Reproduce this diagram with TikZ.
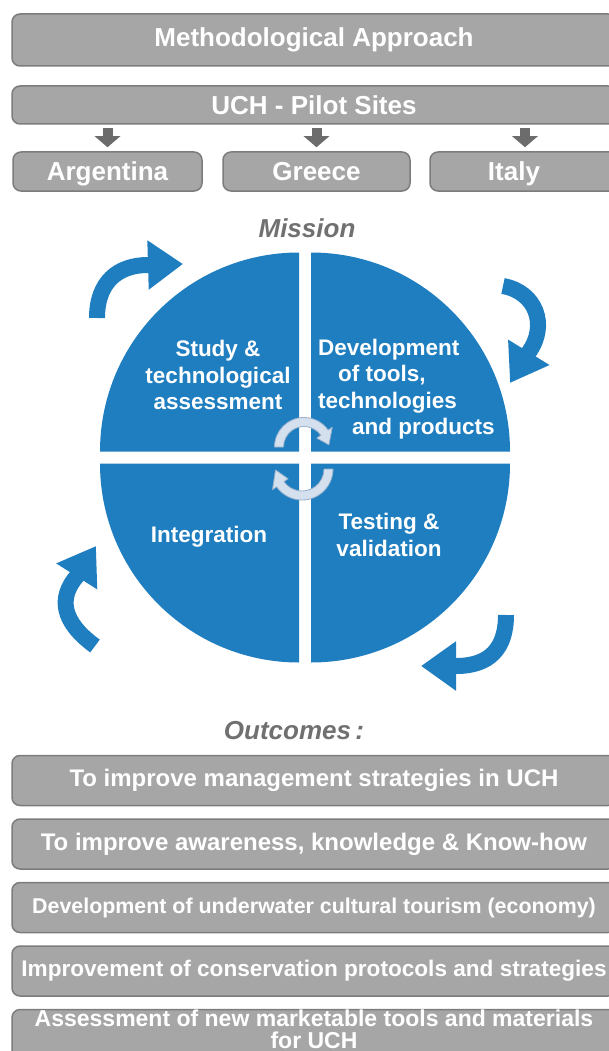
\documentclass[tikz,border=0pt]{standalone}
\usepackage{fontspec}
\setmainfont{Liberation Sans}
\usetikzlibrary{arrows.meta,positioning}

\definecolor{boxgray}{RGB}{166,166,166}
\definecolor{boxline}{RGB}{124,124,124}
\definecolor{titlegray}{RGB}{112,112,112}
\definecolor{arrowgray}{RGB}{108,108,108}
\definecolor{missionblue}{RGB}{31,126,192}
\definecolor{hubfill}{RGB}{212,224,237}
\definecolor{hubline}{RGB}{150,176,205}

\tikzset{
  graybox/.style={draw=boxline, line width=1.5pt, fill=boxgray, rounded corners=8pt,
    text=white, inner sep=0pt, minimum width=604pt, minimum height=50pt,
    font=\fontsize{24pt}{28pt}\selectfont\bfseries},
  sitebox/.style={graybox, minimum width=189pt, minimum height=39pt,
    text height=22pt, text depth=3pt,
    font=\fontsize{26pt}{30pt}\selectfont\bfseries},
  heading/.style={text=titlegray, inner sep=0pt, font=\fontsize{26pt}{30pt}\selectfont\bfseries\itshape},
  quadtext/.style={text=white, align=center, inner sep=0pt,
    font=\fontsize{22.5pt}{26.5pt}\selectfont\bfseries},
  sitearrow/.style={draw=arrowgray, line width=10pt, -{Triangle[length=11pt,width=25pt]}},
  cyclearrow/.style={draw=missionblue, line width=16pt, -{Triangle[length=35pt,width=47pt]}},
  hubarrow/.style={fill=hubfill, draw=hubline, line width=0.8pt, line join=round},
}

\begin{document}
\begin{tikzpicture}[x=1pt, y=-1pt]
\useasboundingbox (0,0) rectangle (609,1051);
\clip (0,0) rectangle (609,1051);

% approach and pilot sites
\node[graybox, minimum height=52pt, font=\fontsize{26pt}{30pt}\selectfont\bfseries] (approach) at (314,40) {Methodological Approach};
\node[graybox, minimum height=38pt, font=\fontsize{26pt}{30pt}\selectfont\bfseries] (sites) at (314,105) {UCH - Pilot Sites};
\node[sitebox] (argentina) at (107.5,171.5) {Argentina};
\node[sitebox, minimum width=187pt] (greece) at (316.5,171.5) {Greece};
\node[sitebox, minimum width=190pt] (italy) at (525,171.5) {Italy\hspace*{22pt}};
\foreach \site in {argentina,greece,italy}
  \draw[sitearrow, shorten <=3pt, shorten >=4pt] (sites.south -| \site.north) -- (\site.north);

% mission circle
\node[heading] (mission) at (307,228) {Mission};
\foreach \cx/\cy/\a in {299/451.5/180, 311/451.5/270, 311/463.5/0, 299/463.5/90}
  \fill[missionblue] (\cx,\cy) -- ++(\a:199) arc[start angle=\a, end angle=\a+90, radius=199] -- cycle;

\node[quadtext] (study) at (218,375) {Study \&\\technological\\assessment};
\node[quadtext, align=left, anchor=west] (develop) at (318,389) {Development\\\hspace*{20pt}of tools,\\technologies\\\hspace*{34pt}and products};
\node[quadtext] (integration) at (209,537) {Integration};
\node[quadtext] (testing) at (389,535) {Testing \&\\validation};

% outer cycle arrows
\draw[cyclearrow] (97,318) .. controls (97,282) and (118,265) .. (148,265) -- (183,264);
\draw[cyclearrow, -{Triangle[length=36pt,width=46pt]}] (503,286) .. controls (536,292) and (548,325) .. (529,352) -- (510,383);
\draw[cyclearrow] (506,615) .. controls (506,648) and (490,666) .. (456,666) -- (421,666);
\draw[cyclearrow, -{Triangle[length=36pt,width=46pt]}] (95,646) .. controls (62,622) and (58,598) .. (77,576) -- (96,546);

% hub arrows in the middle
\begin{scope}[shift={(304,447)}]
  \filldraw[hubarrow] (180:29.5) arc[start angle=180, end angle=325, radius=29.5]
    -- (325:34.5) -- (355:25) -- (325:15.5) -- (325:20.5)
    arc[start angle=325, end angle=180, radius=20.5] -- cycle;
\end{scope}
\begin{scope}[shift={(302,469)}]
  \filldraw[hubarrow] (0:31) arc[start angle=0, end angle=145, radius=31]
    -- (145:36) -- (178:26.5) -- (145:17) -- (145:22)
    arc[start angle=145, end angle=0, radius=22] -- cycle;
\end{scope}

% outcomes
\node[heading] (outcomes) at (294,731) {Outcomes\,:};
\node[graybox] (goal1) at (314,780.5) {To improve management strategies in UCH};
\node[graybox, below=12pt of goal1] (goal2) {To improve awareness, knowledge \& Know-how};
\node[graybox, below=12pt of goal2, font=\fontsize{21.4pt}{25pt}\selectfont\bfseries] (goal3) {Development of underwater cultural tourism (economy)};
\node[graybox, below=12pt of goal3, font=\fontsize{22.6pt}{27pt}\selectfont\bfseries] (goal4) {Improvement of conservation protocols and strategies};
\node[graybox, below=12pt of goal4, align=center, text depth=18pt, font=\fontsize{23pt}{22pt}\selectfont\bfseries] (goal5) {Assessment of new marketable tools and materials\\for UCH};
\end{tikzpicture}
\end{document}
